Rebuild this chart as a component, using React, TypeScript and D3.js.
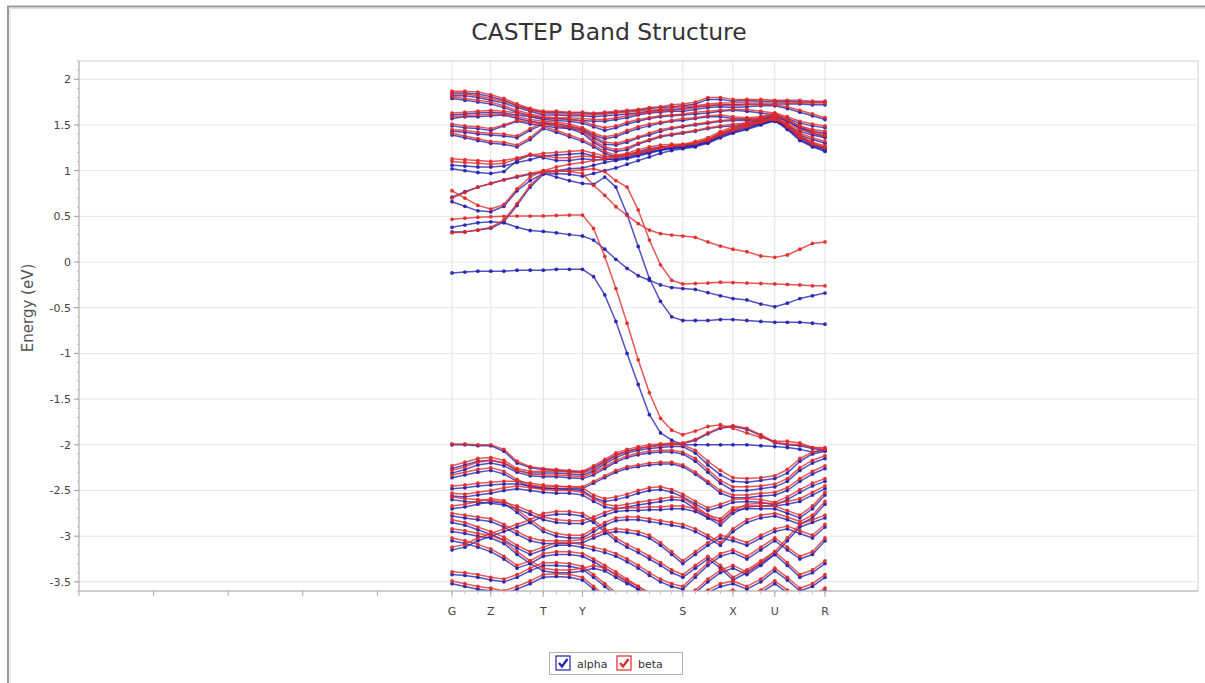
import React from 'react';
import * as d3 from 'd3';

// k-point path coordinates (axis units)
const KX = [0, 0.173, 0.347, 0.52, 0.696, 0.872, 1.048, 1.224, 1.399, 1.574, 1.749, 1.898, 2.048, 2.197, 2.347, 2.496, 2.646, 2.795, 2.945, 3.094, 3.262, 3.43, 3.598, 3.766, 3.953, 4.14, 4.327, 4.495, 4.663, 4.832, 5.0];
const HS_LABELS = ['G', 'Z', 'T', 'Y', 'S', 'X', 'U', 'R'];
const HS_POS = [0, 0.52, 1.224, 1.749, 3.094, 3.766, 4.327, 5.0];
const Y_TICKS = [2, 1.5, 1, 0.5, 0, -0.5, -1, -1.5, -2, -2.5, -3, -3.5];
const X_PLAIN_TICKS = [-5, -4, -3, -2, -1];
const SERIES = ['alpha', 'beta'];

// ---- alpha (spin up) bands ----
const aT1 = [1.85,1.85,1.84,1.81,1.77,1.71,1.67,1.64,1.64,1.63,1.63,1.62,1.63,1.64,1.65,1.66,1.68,1.69,1.70,1.71,1.73,1.78,1.78,1.76,1.77,1.76,1.76,1.76,1.75,1.75,1.75];
const aT2 = [1.82,1.82,1.80,1.77,1.74,1.69,1.65,1.61,1.61,1.60,1.60,1.59,1.60,1.61,1.62,1.63,1.65,1.66,1.67,1.68,1.70,1.71,1.72,1.72,1.73,1.73,1.73,1.73,1.73,1.72,1.72];
const aT3 = [1.79,1.77,1.75,1.73,1.69,1.64,1.60,1.57,1.57,1.56,1.55,1.54,1.54,1.56,1.58,1.61,1.63,1.64,1.65,1.65,1.67,1.69,1.70,1.69,1.70,1.71,1.71,1.68,1.64,1.60,1.56];
const aT4 = [1.61,1.62,1.63,1.64,1.63,1.61,1.59,1.56,1.55,1.54,1.52,1.48,1.44,1.47,1.51,1.54,1.57,1.59,1.60,1.61,1.62,1.63,1.65,1.66,1.65,1.63,1.61,1.57,1.52,1.49,1.47];
const aT5 = [1.57,1.59,1.59,1.60,1.61,1.57,1.54,1.52,1.51,1.49,1.45,1.39,1.35,1.37,1.42,1.46,1.49,1.52,1.54,1.55,1.57,1.59,1.59,1.57,1.56,1.57,1.59,1.54,1.47,1.43,1.41];
const aT6 = [1.49,1.47,1.46,1.44,1.49,1.54,1.51,1.49,1.47,1.46,1.44,1.36,1.29,1.28,1.31,1.36,1.39,1.43,1.46,1.48,1.50,1.52,1.54,1.55,1.55,1.54,1.54,1.49,1.43,1.39,1.36];
const aT7 = [1.43,1.42,1.40,1.39,1.38,1.36,1.44,1.51,1.49,1.46,1.41,1.31,1.24,1.21,1.23,1.29,1.33,1.37,1.39,1.41,1.43,1.46,1.48,1.49,1.50,1.51,1.54,1.48,1.39,1.34,1.30];
const aT8 = [1.39,1.36,1.33,1.30,1.29,1.26,1.34,1.46,1.42,1.37,1.32,1.26,1.19,1.15,1.17,1.21,1.24,1.26,1.27,1.27,1.30,1.34,1.41,1.46,1.51,1.57,1.61,1.54,1.47,1.41,1.37];
const aT9 = [1.06,1.05,1.04,1.04,1.05,1.09,1.12,1.16,1.17,1.18,1.19,1.16,1.13,1.12,1.14,1.17,1.20,1.23,1.25,1.26,1.28,1.32,1.39,1.44,1.49,1.55,1.59,1.49,1.37,1.29,1.24];
const aT10 = [1.02,1.00,0.98,0.97,0.99,1.11,1.17,1.14,1.11,1.11,1.13,1.12,1.12,1.13,1.15,1.18,1.21,1.23,1.25,1.26,1.28,1.31,1.37,1.42,1.46,1.51,1.56,1.46,1.34,1.27,1.22];
const aG4 = [0.71,0.77,0.82,0.86,0.90,0.93,0.96,0.98,1.00,1.02,1.03,1.06,1.09,1.11,1.13,1.16,1.19,1.22,1.24,1.25,1.27,1.31,1.38,1.43,1.47,1.52,1.57,1.47,1.36,1.28,1.24];
const aG3 = [0.66,0.61,0.56,0.55,0.61,0.78,0.89,0.97,0.93,0.89,0.86,0.85,0.93,0.82,0.52,0.17,-0.18,-0.43,-0.60,-0.64,-0.64,-0.64,-0.63,-0.63,-0.64,-0.65,-0.66,-0.66,-0.66,-0.67,-0.68];
const aG5 = [0.33,0.33,0.35,0.37,0.44,0.62,0.82,0.96,0.97,0.96,0.94,0.97,1.00,1.03,1.07,1.11,1.15,1.19,1.22,1.24,1.26,1.30,1.36,1.41,1.45,1.50,1.55,1.45,1.33,1.26,1.21];
const aG2 = [0.38,0.405,0.43,0.44,0.43,0.38,0.345,0.335,0.32,0.30,0.285,0.24,0.14,0.03,-0.07,-0.15,-0.20,-0.25,-0.28,-0.29,-0.30,-0.335,-0.37,-0.40,-0.415,-0.46,-0.49,-0.45,-0.40,-0.37,-0.34];
const aC1 = [-0.12,-0.11,-0.10,-0.10,-0.10,-0.09,-0.09,-0.09,-0.08,-0.08,-0.08,-0.16,-0.36,-0.65,-1.00,-1.34,-1.67,-1.87,-1.95,-2.00,-2.00,-2.00,-2.00,-2.00,-2.00,-2.01,-2.02,-2.03,-2.05,-2.08,-2.06];
const aV1 = [-2.00,-2.00,-2.01,-2.01,-2.07,-2.20,-2.25,-2.27,-2.28,-2.29,-2.30,-2.25,-2.18,-2.11,-2.07,-2.04,-2.02,-2.00,-1.99,-1.99,-1.95,-1.88,-1.82,-1.80,-1.83,-1.90,-1.98,-2.00,-2.01,-2.04,-2.06];
const aV2 = [-2.26,-2.22,-2.18,-2.17,-2.20,-2.28,-2.31,-2.31,-2.31,-2.32,-2.33,-2.29,-2.21,-2.14,-2.09,-2.06,-2.04,-2.03,-2.02,-2.02,-2.09,-2.22,-2.33,-2.40,-2.41,-2.39,-2.37,-2.31,-2.18,-2.10,-2.07];
const aV3 = [-2.31,-2.27,-2.22,-2.20,-2.23,-2.30,-2.34,-2.35,-2.35,-2.36,-2.37,-2.33,-2.26,-2.19,-2.14,-2.11,-2.09,-2.08,-2.08,-2.10,-2.18,-2.30,-2.42,-2.50,-2.50,-2.48,-2.46,-2.40,-2.28,-2.20,-2.15];
const aV4 = [-2.36,-2.33,-2.30,-2.28,-2.32,-2.40,-2.46,-2.48,-2.48,-2.48,-2.48,-2.42,-2.36,-2.30,-2.26,-2.24,-2.22,-2.21,-2.21,-2.24,-2.32,-2.42,-2.53,-2.58,-2.58,-2.56,-2.55,-2.50,-2.40,-2.32,-2.26];
const aV5 = [-2.48,-2.47,-2.45,-2.44,-2.43,-2.43,-2.45,-2.47,-2.48,-2.49,-2.50,-2.58,-2.62,-2.60,-2.57,-2.53,-2.50,-2.49,-2.52,-2.57,-2.65,-2.72,-2.68,-2.63,-2.62,-2.63,-2.66,-2.60,-2.52,-2.45,-2.40];
const aV6 = [-2.56,-2.57,-2.55,-2.53,-2.50,-2.48,-2.50,-2.52,-2.53,-2.53,-2.55,-2.62,-2.68,-2.70,-2.68,-2.66,-2.64,-2.62,-2.60,-2.61,-2.70,-2.80,-2.88,-2.75,-2.68,-2.67,-2.67,-2.65,-2.62,-2.55,-2.48];
const aV7 = [-2.60,-2.62,-2.63,-2.64,-2.66,-2.70,-2.76,-2.82,-2.85,-2.86,-2.86,-2.82,-2.77,-2.73,-2.72,-2.72,-2.71,-2.71,-2.70,-2.70,-2.73,-2.80,-2.84,-2.72,-2.70,-2.70,-2.70,-2.75,-2.80,-2.70,-2.55];
const aV8 = [-2.70,-2.68,-2.65,-2.62,-2.64,-2.74,-2.85,-2.95,-3.00,-3.02,-3.02,-2.95,-2.88,-2.83,-2.82,-2.82,-2.84,-2.86,-2.88,-2.90,-2.95,-3.02,-3.10,-2.95,-2.85,-2.80,-2.78,-2.82,-2.87,-2.80,-2.65];
const aV9 = [-2.78,-2.80,-2.82,-2.84,-2.90,-2.98,-3.05,-3.08,-3.08,-3.08,-3.07,-3.02,-2.97,-2.95,-2.96,-2.98,-3.02,-3.10,-3.20,-3.30,-3.20,-3.10,-3.02,-3.05,-3.10,-3.02,-2.95,-2.92,-2.97,-3.02,-2.90];
const aV10 = [-2.85,-2.88,-2.93,-2.98,-3.04,-3.13,-3.20,-3.15,-3.10,-3.10,-3.12,-3.15,-3.18,-3.22,-3.28,-3.35,-3.43,-3.50,-3.55,-3.58,-3.45,-3.32,-3.22,-3.18,-3.25,-3.15,-3.05,-3.15,-3.25,-3.20,-3.05];
const aV11 = [-2.95,-2.97,-3.00,-3.02,-3.08,-3.20,-3.30,-3.38,-3.40,-3.40,-3.38,-3.35,-3.38,-3.45,-3.52,-3.58,-3.65,-3.70,-3.72,-3.72,-3.62,-3.50,-3.40,-3.35,-3.42,-3.32,-3.20,-3.32,-3.45,-3.40,-3.30];
const aV12 = [-3.05,-3.08,-3.12,-3.17,-3.25,-3.35,-3.30,-3.22,-3.20,-3.20,-3.22,-3.28,-3.35,-3.42,-3.50,-3.58,-3.66,-3.72,-3.75,-3.76,-3.70,-3.62,-3.55,-3.52,-3.58,-3.50,-3.38,-3.48,-3.60,-3.55,-3.45];
const aV13 = [-3.42,-3.43,-3.45,-3.48,-3.50,-3.45,-3.38,-3.32,-3.32,-3.33,-3.36,-3.45,-3.55,-3.65,-3.72,-3.78,-3.82,-3.85,-3.86,-3.86,-3.80,-3.72,-3.66,-3.62,-3.68,-3.62,-3.52,-3.62,-3.72,-3.68,-3.60];
const aV14 = [-3.52,-3.55,-3.58,-3.60,-3.63,-3.58,-3.52,-3.45,-3.44,-3.45,-3.48,-3.58,-3.68,-3.76,-3.82,-3.86,-3.90,-3.92,-3.94,-3.94,-3.88,-3.80,-3.74,-3.72,-3.78,-3.72,-3.66,-3.74,-3.82,-3.78,-3.72];
const aV15 = [-3.15,-3.12,-3.05,-3.00,-2.95,-2.90,-2.85,-2.78,-2.76,-2.76,-2.78,-2.85,-2.95,-3.05,-3.12,-3.18,-3.25,-3.32,-3.40,-3.45,-3.35,-3.25,-3.35,-3.48,-3.40,-3.30,-3.20,-3.05,-2.90,-2.85,-2.80];

// ---- beta (spin down) bands ----
const bT1 = [1.87,1.87,1.86,1.83,1.79,1.73,1.68,1.65,1.65,1.64,1.64,1.63,1.64,1.65,1.66,1.67,1.69,1.70,1.72,1.73,1.75,1.80,1.80,1.78,1.78,1.78,1.77,1.77,1.77,1.76,1.76];
const bT2 = [1.84,1.84,1.82,1.79,1.76,1.71,1.66,1.63,1.62,1.62,1.61,1.61,1.62,1.63,1.64,1.65,1.66,1.67,1.69,1.70,1.71,1.73,1.74,1.74,1.75,1.75,1.75,1.74,1.74,1.74,1.74];
const bT3 = [1.81,1.79,1.77,1.75,1.71,1.66,1.62,1.59,1.58,1.58,1.57,1.56,1.56,1.58,1.60,1.62,1.64,1.65,1.66,1.67,1.69,1.71,1.72,1.71,1.72,1.72,1.72,1.70,1.66,1.62,1.58];
const bT4 = [1.63,1.64,1.65,1.66,1.65,1.63,1.60,1.58,1.57,1.56,1.54,1.50,1.47,1.49,1.53,1.56,1.58,1.60,1.61,1.62,1.64,1.65,1.66,1.67,1.67,1.65,1.63,1.59,1.54,1.51,1.49];
const bT5 = [1.59,1.60,1.61,1.62,1.62,1.59,1.56,1.54,1.53,1.51,1.47,1.41,1.37,1.39,1.44,1.48,1.51,1.53,1.55,1.57,1.58,1.60,1.61,1.59,1.58,1.59,1.61,1.56,1.49,1.45,1.43];
const bT6 = [1.51,1.49,1.48,1.46,1.50,1.55,1.53,1.51,1.49,1.48,1.46,1.38,1.31,1.30,1.33,1.37,1.41,1.45,1.47,1.49,1.51,1.53,1.55,1.56,1.57,1.56,1.56,1.51,1.45,1.41,1.38];
const bT7 = [1.45,1.44,1.42,1.41,1.40,1.38,1.46,1.53,1.51,1.48,1.43,1.33,1.26,1.23,1.25,1.30,1.34,1.38,1.40,1.42,1.44,1.47,1.49,1.51,1.52,1.53,1.56,1.50,1.41,1.36,1.32];
const bT8 = [1.41,1.38,1.35,1.32,1.31,1.28,1.36,1.48,1.44,1.39,1.34,1.28,1.21,1.17,1.19,1.23,1.26,1.28,1.29,1.29,1.32,1.36,1.43,1.48,1.53,1.59,1.63,1.56,1.49,1.43,1.39];
const bT9 = [1.13,1.12,1.11,1.10,1.11,1.14,1.17,1.19,1.20,1.21,1.22,1.19,1.16,1.15,1.17,1.19,1.22,1.25,1.27,1.28,1.30,1.34,1.41,1.46,1.51,1.57,1.61,1.51,1.39,1.31,1.27];
const bT10 = [1.10,1.09,1.08,1.07,1.08,1.13,1.18,1.16,1.14,1.14,1.16,1.15,1.15,1.16,1.18,1.20,1.23,1.25,1.27,1.28,1.30,1.33,1.39,1.44,1.48,1.53,1.58,1.48,1.36,1.29,1.25];
const bG4 = [0.78,0.70,0.62,0.58,0.63,0.80,0.93,1.00,1.04,1.07,1.09,1.11,1.13,1.15,1.17,1.19,1.22,1.25,1.27,1.28,1.30,1.34,1.40,1.45,1.49,1.54,1.59,1.49,1.38,1.30,1.26];
const bG3 = [0.70,0.76,0.82,0.86,0.90,0.94,0.97,1.00,1.00,0.99,0.97,0.84,0.73,0.605,0.51,0.42,0.35,0.31,0.295,0.284,0.27,0.22,0.175,0.14,0.113,0.066,0.051,0.077,0.14,0.204,0.22];
const bG2 = [0.32,0.33,0.35,0.38,0.46,0.64,0.84,0.98,0.99,1.00,1.01,1.02,0.99,0.89,0.82,0.57,0.24,-0.03,-0.20,-0.24,-0.235,-0.23,-0.22,-0.225,-0.23,-0.235,-0.24,-0.245,-0.25,-0.26,-0.26];
const bG1 = [0.467,0.48,0.49,0.496,0.50,0.503,0.503,0.505,0.51,0.514,0.514,0.368,0.06,-0.29,-0.67,-1.07,-1.43,-1.71,-1.84,-1.89,-1.85,-1.80,-1.78,-1.82,-1.87,-1.92,-1.96,-1.96,-1.98,-2.03,-2.03];
const bV1 = [-1.99,-1.99,-2.00,-2.00,-2.05,-2.18,-2.24,-2.26,-2.27,-2.28,-2.29,-2.23,-2.16,-2.09,-2.05,-2.02,-2.00,-1.99,-1.98,-1.98,-1.94,-1.87,-1.81,-1.79,-1.82,-1.89,-1.97,-1.99,-2.00,-2.03,-2.05];
const bV2 = [-2.23,-2.19,-2.15,-2.14,-2.17,-2.26,-2.29,-2.29,-2.29,-2.30,-2.31,-2.27,-2.19,-2.12,-2.07,-2.04,-2.02,-2.01,-2.00,-2.00,-2.06,-2.18,-2.28,-2.36,-2.37,-2.36,-2.34,-2.27,-2.15,-2.08,-2.05];
const bV3 = [-2.28,-2.24,-2.19,-2.17,-2.20,-2.28,-2.32,-2.33,-2.33,-2.34,-2.35,-2.31,-2.24,-2.17,-2.12,-2.09,-2.07,-2.06,-2.06,-2.08,-2.15,-2.27,-2.39,-2.46,-2.46,-2.45,-2.43,-2.37,-2.25,-2.17,-2.12];
const bV4 = [-2.33,-2.30,-2.27,-2.25,-2.29,-2.38,-2.44,-2.46,-2.46,-2.46,-2.46,-2.40,-2.34,-2.28,-2.24,-2.22,-2.20,-2.19,-2.19,-2.22,-2.30,-2.40,-2.50,-2.55,-2.55,-2.53,-2.52,-2.47,-2.37,-2.29,-2.23];
const bV5 = [-2.45,-2.44,-2.42,-2.41,-2.40,-2.40,-2.42,-2.44,-2.45,-2.46,-2.47,-2.55,-2.59,-2.57,-2.54,-2.50,-2.47,-2.46,-2.49,-2.54,-2.62,-2.69,-2.65,-2.60,-2.59,-2.60,-2.63,-2.57,-2.49,-2.42,-2.37];
const bV6 = [-2.53,-2.54,-2.52,-2.50,-2.47,-2.45,-2.47,-2.49,-2.50,-2.50,-2.52,-2.59,-2.65,-2.67,-2.65,-2.63,-2.61,-2.59,-2.57,-2.58,-2.67,-2.77,-2.85,-2.72,-2.65,-2.64,-2.64,-2.62,-2.59,-2.52,-2.45];
const bV7 = [-2.57,-2.59,-2.60,-2.61,-2.63,-2.67,-2.73,-2.79,-2.82,-2.83,-2.83,-2.79,-2.74,-2.70,-2.69,-2.69,-2.68,-2.68,-2.67,-2.67,-2.70,-2.77,-2.81,-2.69,-2.67,-2.67,-2.67,-2.72,-2.77,-2.67,-2.52];
const bV8 = [-2.67,-2.65,-2.62,-2.59,-2.61,-2.71,-2.82,-2.92,-2.97,-2.99,-2.99,-2.92,-2.85,-2.80,-2.79,-2.79,-2.81,-2.83,-2.85,-2.87,-2.92,-2.99,-3.07,-2.92,-2.82,-2.77,-2.75,-2.79,-2.84,-2.77,-2.62];
const bV9 = [-2.75,-2.77,-2.79,-2.81,-2.87,-2.95,-3.02,-3.05,-3.05,-3.05,-3.04,-2.99,-2.94,-2.92,-2.93,-2.95,-2.99,-3.07,-3.17,-3.27,-3.17,-3.07,-2.99,-3.02,-3.07,-2.99,-2.92,-2.89,-2.94,-2.99,-2.87];
const bV10 = [-2.82,-2.85,-2.90,-2.95,-3.01,-3.10,-3.17,-3.12,-3.07,-3.07,-3.09,-3.12,-3.15,-3.19,-3.25,-3.32,-3.40,-3.47,-3.52,-3.55,-3.42,-3.29,-3.19,-3.15,-3.22,-3.12,-3.02,-3.12,-3.22,-3.17,-3.02];
const bV11 = [-2.92,-2.94,-2.97,-2.99,-3.05,-3.17,-3.27,-3.35,-3.37,-3.37,-3.35,-3.32,-3.35,-3.42,-3.49,-3.55,-3.62,-3.67,-3.69,-3.69,-3.59,-3.47,-3.37,-3.32,-3.39,-3.29,-3.17,-3.29,-3.42,-3.37,-3.27];
const bV12 = [-3.02,-3.05,-3.09,-3.14,-3.22,-3.32,-3.27,-3.19,-3.17,-3.17,-3.19,-3.25,-3.32,-3.39,-3.47,-3.55,-3.63,-3.69,-3.72,-3.73,-3.67,-3.59,-3.52,-3.49,-3.55,-3.47,-3.35,-3.45,-3.57,-3.52,-3.42];
const bV13 = [-3.39,-3.40,-3.42,-3.45,-3.47,-3.42,-3.35,-3.29,-3.29,-3.30,-3.33,-3.42,-3.52,-3.62,-3.69,-3.75,-3.79,-3.82,-3.83,-3.83,-3.77,-3.69,-3.63,-3.59,-3.65,-3.59,-3.49,-3.59,-3.69,-3.65,-3.57];
const bV14 = [-3.49,-3.52,-3.55,-3.57,-3.60,-3.55,-3.49,-3.42,-3.41,-3.42,-3.45,-3.55,-3.65,-3.73,-3.79,-3.83,-3.87,-3.89,-3.91,-3.91,-3.85,-3.77,-3.71,-3.69,-3.75,-3.69,-3.63,-3.71,-3.79,-3.75,-3.69];
const bV15 = [-3.12,-3.09,-3.02,-2.97,-2.92,-2.87,-2.82,-2.75,-2.73,-2.73,-2.75,-2.82,-2.92,-3.02,-3.09,-3.15,-3.22,-3.29,-3.37,-3.42,-3.32,-3.22,-3.32,-3.45,-3.37,-3.27,-3.17,-3.02,-2.87,-2.82,-2.77];

const ALPHA_BANDS = [aT1, aT2, aT3, aT4, aT5, aT6, aT7, aT8, aT9, aT10, aG4, aG3, aG5, aG2, aC1, aV1, aV2, aV3, aV4, aV5, aV6, aV7, aV8, aV9, aV10, aV11, aV12, aV13, aV14, aV15];
const BETA_BANDS = [bT1, bT2, bT3, bT4, bT5, bT6, bT7, bT8, bT9, bT10, bG4, bG3, bG2, bG1, bV1, bV2, bV3, bV4, bV5, bV6, bV7, bV8, bV9, bV10, bV11, bV12, bV13, bV14, bV15];

const BLUE = '#2020b0';
const RED = '#e02828';

export default function App() {
  const W = 1205, H = 683;
  const L = 79, R = 1198, T = 61, B = 591;
  const x = d3.scaleLinear().domain([-5, 10]).range([L, R]);
  const y = d3.scaleLinear().domain([-3.6, 2.2]).range([B, T]);
  const line = d3.line<number>().x((_, i) => x(KX[i])).y(d => y(d));
  const minor = d3.range(-36, 23).map(v => v / 10);
  const font = 'DejaVu Sans, Verdana, sans-serif';

  const drawSpin = (bands: number[][], color: string, key: string) => (
    <g key={key} clipPath="url(#plotclip)">
      {bands.map((b, bi) => (
        <path key={'l' + bi} d={line(b) || ''} fill="none" stroke={color} strokeWidth={1.5} strokeOpacity={0.78} strokeLinejoin="round" />
      ))}
      {bands.map((b, bi) => (
        <g key={'p' + bi}>
          {b.map((v, i) => (
            <circle key={i} cx={x(KX[i])} cy={y(v)} r={1.9} fill={color} fillOpacity={0.9} />
          ))}
        </g>
      ))}
    </g>
  );

  const check = (cx: number, cy: number, color: string) => (
    <g>
      <rect x={cx} y={cy} width={14} height={14} fill="#fff" stroke={color} strokeWidth={1.2} />
      <path d={`M${cx + 3},${cy + 7} L${cx + 6},${cy + 10.5} L${cx + 11.5},${cy + 3}`} fill="none" stroke={color} strokeWidth={2.2} />
    </g>
  );

  return (
    <svg width={W} height={H} style={{ position: 'absolute', left: 0, top: 0, background: '#fff' }} fontFamily={font}>
      <defs>
        <clipPath id="plotclip">
          <rect x={L} y={T} width={R - L} height={B - T} />
        </clipPath>
      </defs>
      <rect x={0} y={0} width={W} height={H} fill="#fff" />
      {/* outer panel frame */}
      <path d={`M8,${H} L8,6.5 L${W},6.5`} fill="none" stroke="#9a9a9a" strokeWidth={2} />
      <path d={`M10,${H} L10,8.5 L${W},8.5`} fill="none" stroke="#dcdcdc" strokeWidth={1} />

      <text x={609} y={40} textAnchor="middle" fontSize={23.5} fill="#333">CASTEP Band Structure</text>

      {/* plot area */}
      <rect x={L} y={T} width={R - L} height={B - T} fill="#fff" stroke="#cfcfcf" strokeWidth={1} />
      {Y_TICKS.map(t => (
        <line key={'gy' + t} x1={L} x2={R} y1={y(t)} y2={y(t)} stroke="#e6e6e6" strokeWidth={1} />
      ))}
      {HS_POS.map((p, i) => (
        <line key={'gx' + i} x1={x(p)} x2={x(p)} y1={T} y2={B} stroke="#e2e2e2" strokeWidth={1} />
      ))}

      {drawSpin(ALPHA_BANDS, BLUE, SERIES[0])}
      {drawSpin(BETA_BANDS, RED, SERIES[1])}

      {/* y axis */}
      <line x1={L} x2={L} y1={T} y2={B} stroke="#b5b5b5" />
      {minor.map(t => (
        <line key={'my' + t} x1={L - 2} x2={L} y1={y(t)} y2={y(t)} stroke="#b5b5b5" />
      ))}
      {Y_TICKS.map(t => (
        <g key={'ty' + t}>
          <line x1={L - 5} x2={L} y1={y(t)} y2={y(t)} stroke="#a0a0a0" />
          <text x={L - 8} y={y(t) + 4} textAnchor="end" fontSize={11} fill="#444">{String(t)}</text>
        </g>
      ))}
      <text transform={`translate(33,308) rotate(-90)`} textAnchor="middle" fontSize={15} fill="#555">Energy (eV)</text>

      {/* x axis */}
      <line x1={L} x2={R} y1={B} y2={B} stroke="#b5b5b5" />
      {X_PLAIN_TICKS.map(t => (
        <line key={'px' + t} x1={x(t)} x2={x(t)} y1={B} y2={B + 5} stroke="#a8a8a8" />
      ))}
      {KX.map((k, i) => (
        <line key={'kx' + i} x1={x(k)} x2={x(k)} y1={B} y2={B + 3} stroke="#c0c0c0" />
      ))}
      {HS_POS.map((p, i) => (
        <g key={'hs' + i}>
          <line x1={x(p)} x2={x(p)} y1={B} y2={B + 6} stroke="#a8a8a8" />
          <text x={x(p)} y={615} textAnchor="middle" fontSize={11} fill="#444">{HS_LABELS[i]}</text>
        </g>
      ))}

      {/* legend */}
      <rect x={549.5} y={652.5} width={133} height={22} fill="#fff" stroke="#b0b0b0" />
      {check(556, 656, BLUE)}
      <text x={577} y={668} fontSize={11} fill="#333">{SERIES[0]}</text>
      {check(617, 656, RED)}
      <text x={638} y={668} fontSize={11} fill="#333">{SERIES[1]}</text>
    </svg>
  );
}
